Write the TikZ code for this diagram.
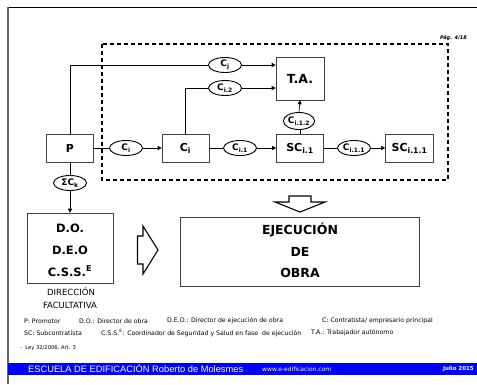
\documentclass[tikz,border=0pt]{standalone}
\usepackage{fontspec}
\setmainfont{DejaVu Sans}
\newfontfamily\arialf{Liberation Sans}
\usetikzlibrary{shapes.geometric,arrows.meta}
\definecolor{barblue}{RGB}{0,0,255}
\begin{document}
\begin{tikzpicture}[x=1pt,y=-1pt,
  bx/.style={draw=black!75,line width=0.6pt,fill=white,inner sep=0pt,minimum width=47pt,minimum height=28pt,font=\fontsize{11}{13}\selectfont\bfseries},
  el/.style={ellipse,draw=black,line width=0.9pt,fill=white,minimum width=33pt,minimum height=15pt,inner sep=0pt,font=\fontsize{9}{10}\selectfont\bfseries},
  con/.style={line width=0.6pt},
  arr/.style={con,-{Triangle[length=4pt,width=4pt]}},
  blk/.style={draw,line width=1.1pt,fill=white,line join=miter},
  tx/.style={inner sep=0pt},
  big/.style={tx,font=\fontsize{11.5}{13}\selectfont\bfseries},
  leg/.style={tx,anchor=west,font=\fontsize{6.2}{7}\selectfont},
]
\useasboundingbox (0,0) rectangle (477,384);
% page frame
\draw[line width=1pt] (8,7) -- (477,7);
\draw[black!60,line width=1.4pt] (8,7) -- (8,384);
\node[tx,anchor=east,font=\fontsize{5}{6}\selectfont\bfseries\itshape] (pag) at (467,38) {Pág. 4/18};
% dashed frame
\draw[line width=1.2pt,dash pattern=on 4pt off 3pt] (102,44) rectangle (448,180);
% boxes
\node[bx] (P) at (70,148) {P};
\node[bx] (Ci) at (185.5,148) {C\textsubscript{i}};
\node[bx] (SC1) at (300,148) {SC\textsubscript{i.1}};
\node[bx,minimum width=48pt] (SC11) at (409.5,148) {SC\textsubscript{i.1.1}};
\node[bx,minimum width=48pt,minimum height=43pt,font=\fontsize{12.5}{14}\selectfont\bfseries] (TA) at (300,78.5) {T.A.};
% ellipses
\node[el] (eCi) at (126,148) {C\textsubscript{i}};
\node[el] (eCi1) at (240,148) {C\textsubscript{i.1}};
\node[el] (eCi11) at (354,148) {C\textsubscript{i.1.1}};
\node[el,minimum width=31pt,minimum height=17pt] (eCi12) at (299,121) {C\textsubscript{i.1.2}};
\node[el] (eCj) at (225,65) {C\textsubscript{j}};
\node[el] (eCi2) at (225,88) {C\textsubscript{i.2}};
\node[el] (eCk) at (70,183) {ΣC\textsubscript{k}};
% lower boxes
\node[bx,minimum width=86pt,minimum height=70pt] (DO) at (70,248) {};
\node[big] (tDO) at (70,228) {D.O.};
\node[big] (tDEO) at (70,250) {D.E.O};
\node[big] (tCSS) at (70,271) {C.S.S.\textsuperscript{\fontsize{8}{9}\selectfont E}};
\node[bx,minimum width=239pt,minimum height=69pt] (EJ) at (300,251.5) {};
\node[big,font=\fontsize{12.5}{14}\selectfont\bfseries] (tEJ) at (300,230) {EJECUCIÓN};
\node[big,font=\fontsize{12.5}{14}\selectfont\bfseries] (tDE) at (300,252) {DE};
\node[big,font=\fontsize{12.5}{14}\selectfont\bfseries] (tOB) at (300,273) {OBRA};
\node[tx,font=\fontsize{8.5}{10}\selectfont] (dir) at (71,292) {DIRECCIÓN};
\node[tx,font=\fontsize{8.5}{10}\selectfont] (fac) at (70,305) {FACULTATIVA};
% connectors
\draw[con] (P.north) |- (eCj.west);
\draw[arr] (eCj.east) -- (TA.west |- eCj.east);
\draw[con] (Ci.north) |- (eCi2.west);
\draw[arr] (eCi2.east) -- (TA.west |- eCi2.east);
\draw[con] (P.east) -- (eCi.west);
\draw[arr] (eCi.east) -- (Ci.west);
\draw[con] (Ci.east) -- (eCi1.west);
\draw[arr] (eCi1.east) -- (SC1.west);
\draw[con] (SC1.east) -- (eCi11.west);
\draw[arr] (eCi11.east) -- (SC11.west);
\draw[con] (SC1.north) -- (SC1.north |- eCi12.south);
\draw[arr] (eCi12.north) -- (TA.south);
\draw[con] (P.south) -- (eCk.north);
\draw[arr] (eCk.south) -- (DO.north);
% block arrows
\draw[blk] (289,196) -- (311,196) -- (311,202) -- (325,202) -- (300,212) -- (275,202) -- (289,202) -- cycle;
\draw[blk] (137.5,236) -- (143,236) -- (143,226) -- (158,250) -- (143,274) -- (143,264) -- (137.5,264) -- cycle;
% legend
\node[leg] (l1) at (24,321) {P: Promotor};
\node[leg] (l2) at (79,321) {D.O.: Director de obra};
\node[leg] (l3) at (167,321) {D.E.O.: Director de ejecución de obra};
\node[leg] (l4) at (322,321) {C: Contratista/ empresario principal};
\node[leg] (l5) at (24,333) {SC: Subcontratista};
\node[leg] (l6) at (101,333) {C.S.S.\textsuperscript{E}: Coordinador de Seguridad y Salud en fase\ \ de ejecución};
\node[leg] (l7) at (311,333) {T.A.: Trabajador autónomo};
\node[tx,anchor=west,font=\fontsize{5.2}{6}\selectfont] (ley) at (20,348) {-\ \ Ley 32/2006, Art. 3};
% bottom bar
\fill[barblue] (8,363) rectangle (477,375);
\node[tx,anchor=west,text=white,font=\arialf\fontsize{9.3}{10}\selectfont] (esc) at (28,369) {ESCUELA DE EDIFICACIÓN Roberto de Molesmes};
\node[tx,anchor=west,text=white,font=\fontsize{6}{7}\selectfont] (web) at (262,369) {www.e-edificacion.com};
\node[tx,anchor=east,text=white,font=\fontsize{5.5}{6}\selectfont\bfseries] (jul) at (474,369) {Julio 2015};
\end{tikzpicture}
\end{document}
